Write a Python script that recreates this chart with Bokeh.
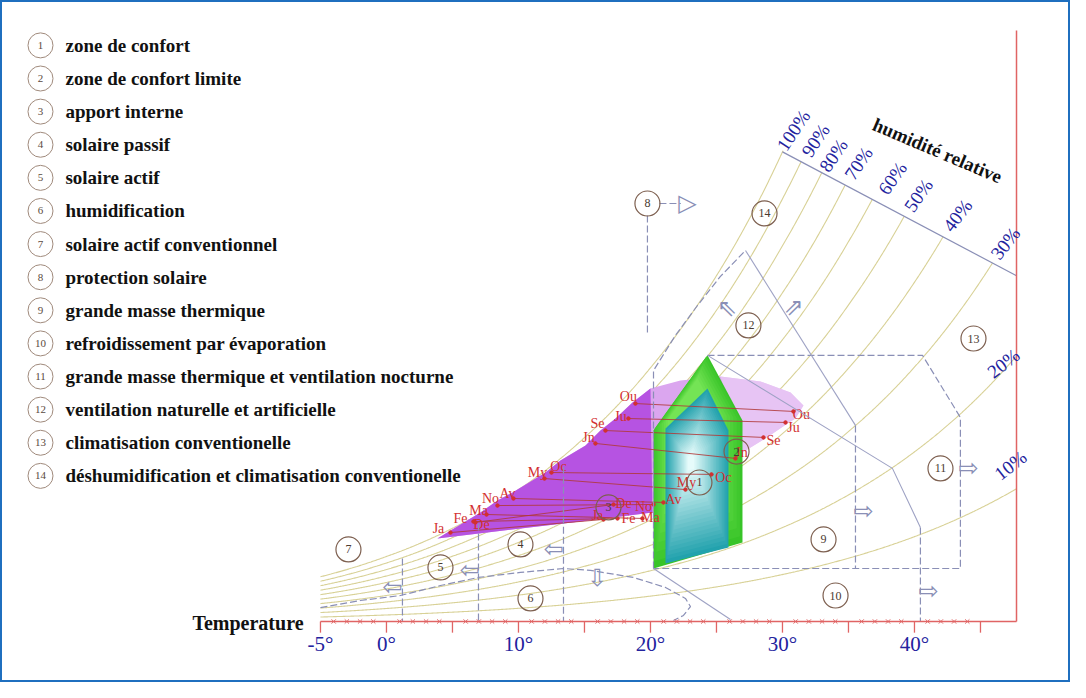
import numpy as np
from bokeh.plotting import figure
from bokeh.models import Range1d
from bokeh.core.properties import value
from bokeh.embed import file_html
from bokeh.resources import INLINE

# ---------------- data ----------------
legend_numbers = [str(i) for i in range(1, 15)]
legend_labels = [
    "zone de confort", "zone de confort limite", "apport interne", "solaire passif",
    "solaire actif", "humidification", "solaire actif conventionnel", "protection solaire",
    "grande masse thermique", "refroidissement par évaporation",
    "grande masse thermique et ventilation nocturne",
    "ventilation naturelle et artificielle", "climatisation conventionelle",
    "déshumidification et climatisation conventionelle"]

major_ticks = [-5, 0, 5, 10, 15, 20, 25, 30, 35, 40, 45]
tick_label_values = [-5, 0, 10, 20, 30, 40]
tick_label_texts = ["-5°", "0°", "10°", "20°", "30°", "40°"]
axis_T_min, axis_T_max = -5, 47.73

# saturation humidity ratio (g/kg) vs temperature (°C)
sat_T = [-5, 0, 5, 10, 15, 20, 25, 30, 35, 40, 45, 50]
sat_W = [2.6, 3.78, 5.42, 7.66, 10.69, 14.75, 20.1, 27.3, 36.8, 49.3, 65.9, 88.0]

rh_levels = [100, 90, 80, 70, 60, 50, 40, 30, 20, 10]
rh_texts = ["100%", "90%", "80%", "70%", "60%", "50%", "40%", "30%", "20%", "10%"]
rh_label_T = [30.83, 32.5, 33.86, 35.76, 38.33, 40.3, 43.26, 46.89, 46.74, 47.27]
rh_label_W = [28.55, 27.97, 27.09, 26.63, 25.76, 24.77, 23.6, 21.98, 15.0, 9.07]
top_line_T = [30.0, 47.73]
top_line_W = [27.3, 20.1]

months = ["Ja", "Fe", "Ma", "Av", "My", "Jn", "Ju", "Ou", "Se", "Oc", "No", "De"]
month_tmin = [4.85, 6.59, 7.58, 9.62, 11.97, 15.83, 18.33, 18.86, 16.59, 12.5, 8.41, 6.74]
month_wmin = [5.17, 5.81, 6.22, 7.15, 8.31, 10.35, 11.80, 12.67, 11.10, 8.66, 6.74, 5.76]
month_tmax = [16.44, 17.5, 19.39, 20.98, 22.65, 26.44, 30.23, 30.83, 28.56, 24.62, 20.23, 17.2]
month_wmax = [5.93, 5.99, 5.99, 6.92, 7.67, 9.48, 11.57, 12.21, 10.70, 8.55, 6.80, 6.80]

# envelope of monthly conditions (purple area)
env_T = [3.86, 5.61, 7.12, 8.41, 9.55, 12.05, 13.18, 15.08, 16.21, 17.35, 18.64, 20.0,
         22.27, 25.3, 28.33, 30.61, 31.59, 30.98, 30.38, 28.71, 26.97, 23.79, 20.15, 15.98]
env_W = [4.83, 5.64, 6.34, 7.03, 7.5, 8.66, 9.36, 10.23, 11.1, 11.8, 12.73, 13.55,
         14.01, 14.24, 13.95, 13.31, 12.56, 11.8, 11.51, 10.64, 9.83, 8.78, 6.34, 5.93]

# comfort zones
zone1_T = [21.14, 21.14, 24.32, 25.91, 25.91]
zone1_W = [3.37, 11.22, 13.55, 11.10, 4.30]
zone2_T = [20.23, 20.23, 24.32, 26.97, 26.97]
zone2_W = [3.08, 11.10, 15.47, 11.69, 4.59]

# zone markers
zone_T = [23.71, 26.52, 16.82, 10.15, 4.09, 10.91, -2.88, 19.77, 33.11, 34.02, 41.97, 27.42, 44.47, 28.64]
zone_W = [8.08, 9.88, 6.63, 4.48, 3.14, 1.34, 4.19, 24.30, 4.77, 1.51, 8.90, 17.21, 16.45, 23.72]

# strategy boundaries (°C, g/kg)
z11_T = [24.32, 40.61, 43.48, 43.48, 20.23]
z11_W = [15.47, 15.47, 11.86, 3.08, 3.08]
z12_left_T = [20.23, 20.23, 21.89, 23.56, 25.3, 27.2]
z12_left_W = [3.08, 14.59, 16.63, 18.37, 20.06, 21.57]
z12_right_T = [27.2, 35.53]
z12_right_W = [21.57, 11.4]
z9_vert_T = [35.53, 35.53]
z9_vert_W = [11.4, 3.08]
z10_diag_T = [24.32, 38.33, 40.45]
z10_diag_W = [15.47, 8.9, 5.47]
z10_vert_T = [40.45, 40.45]
z10_vert_W = [5.47, 0.0]
z10_left_T = [20.23, 26.06]
z10_left_W = [3.08, 0.12]
z8_vert_T = [19.77, 19.77]
z8_vert_W = [23.6, 16.8]
z8_arrow_T = [20.68, 22.3]
z8_arrow_W = [24.3, 24.3]
solar_vert_T = [13.41, 6.97, 1.21]
solar_vert_Wtop = [9.0, 5.7, 3.66]
z6_T = [-5, -1.97, 1.06, 4.09, 6.97, 10.15, 13.41, 15.45, 18.71, 21.14, 22.65, 23.03, 22.5, 21.74]
z6_W = [0.81, 1.22, 1.51, 2.09, 2.56, 2.85, 3.08, 2.97, 2.56, 1.98, 1.34, 0.87, 0.35, 0.06]

arrow_glyphs = ["⇦", "⇦", "⇦", "⇩", "⇨", "⇨", "⇨", "⇖", "⇗", "▷"]
arrow_T = [0.45, 6.29, 12.65, 15.98, 36.14, 44.09, 41.06, 25.83, 30.83, 22.8]
arrow_W = [1.98, 2.97, 4.19, 2.5, 6.45, 8.95, 1.8, 18.2, 18.26, 24.3]

# ---------------- layout / style ----------------
SERIF = value("Liberation Serif")
BLUE = "#23239e"
RED = "#d23030"
ZONE_LINE = "#8a8fb6"
CURVE = "#d8d196"

p = figure(width=1070, height=682, output_backend="svg", toolbar_location=None,
           x_axis_location=None, y_axis_location=None, min_border=0,
           x_range=Range1d(-29.24, 51.82), y_range=Range1d(-3.547, 36.10))
p.outline_line_color = "#1f6fbf"
p.outline_line_width = 3
p.background_fill_color = "white"
p.border_fill_color = "white"
p.grid.visible = False

# RH curves
Tg = np.linspace(axis_T_min, axis_T_max, 800)
Ws = np.exp(np.interp(Tg, sat_T, np.log(sat_W)))
diagW = np.where(Tg >= top_line_T[0],
                 np.interp(Tg, top_line_T, top_line_W), 1e9)
for rh in rh_levels:
    W = rh / 100.0 * Ws
    over = W > diagW + 1e-9
    if over.any():
        i = int(np.argmax(over))
        xs = list(Tg[:i]); ys = list(W[:i])
        d0 = W[i - 1] - diagW[i - 1]; d1 = W[i] - diagW[i]
        f = d0 / (d0 - d1) if d0 != d1 else 0
        xs.append(Tg[i - 1] + f * (Tg[i] - Tg[i - 1]))
        ys.append(W[i - 1] + f * (W[i] - W[i - 1]))
    else:
        xs = list(Tg); ys = list(W)
    p.line(xs, ys, line_color=CURVE, line_width=1.1)

p.line(top_line_T, top_line_W, line_color=ZONE_LINE, line_width=1.2)


def inset(xs, ys, k, dx=0.0, dy=0.0):
    cx, cy = np.mean(xs), np.mean(ys)
    return [cx + dx + k * (x - cx) for x in xs], [cy + dy + k * (y - cy) for y in ys]


def mix(c1, c2, t):
    a = [int(c1[i:i + 2], 16) for i in (1, 3, 5)]
    b = [int(c2[i:i + 2], 16) for i in (1, 3, 5)]
    return "#%02x%02x%02x" % tuple(int(round(a[j] + (b[j] - a[j]) * t)) for j in range(3))


# purple envelope
p.patch(env_T, env_W, fill_color="#dba6ef", line_color=None)
n_dark = 12
dark_T = env_T[:n_dark] + env_T[-2:]
dark_W = env_W[:n_dark] + env_W[-2:]
p.patch(dark_T, dark_W, fill_color="#b44ee0", line_color=None, fill_alpha=0.95)
p.patch(env_T[13:21], env_W[13:21], fill_color="#f4e2f9", line_color=None, fill_alpha=0.5)

# zone 2 (green) and zone 1 (cyan) with stepped gradients
p.patch(zone2_T, zone2_W, fill_color="#38c428", line_color=None)
ng = 8
for s, k in enumerate(np.linspace(0.96, 0.55, ng)):
    gx, gy = inset(zone2_T, zone2_W, k, -0.5 * (s + 1) / ng, 1.5 * (s + 1) / ng)
    p.patch(gx, gy, fill_color=mix("#38c428", "#74e455", (s + 1) / ng), line_color=None)
p.patch(zone1_T, zone1_W, fill_color="#22a2ad", line_color=None)
nl = 22
for s, k in enumerate(np.linspace(0.96, 0.1, nl)):
    cx_, cy_ = inset(zone1_T, zone1_W, k, -0.6 * (s + 1) / nl, 0.6 * (s + 1) / nl)
    p.patch(cx_, cy_, fill_color=mix("#22a2ad", "#e6fbfb", (s + 1) / nl), line_color=None)

# month lines and labels
for i in range(len(months)):
    p.line([month_tmin[i], month_tmax[i]], [month_wmin[i], month_wmax[i]],
           line_color="#b03838", line_width=1, line_alpha=0.85)
p.scatter(month_tmin + month_tmax, month_wmin + month_wmax, size=3.5,
          fill_color=RED, line_color=RED)
left_dx = [-12, -13, -8, -6, -7, -7, -8, -7, -8, 7, -7, 6]
left_dy = [-4, -3, -4, -5, -6, -6, -2, -7, -7, -6, -7, 2]
right_dx = [-6, 11, 8, 10, 1, 6, 8, 8, 10, 12, -10, 10]
right_dy = [-4, 0, -1, -3, -7, -6, 5, 3, 3, 3, 2, -1]
for i, m in enumerate(months):
    p.text([month_tmin[i]], [month_wmin[i]], text=[m], text_font=SERIF,
           text_font_size="14px", text_color=RED, text_align="center",
           text_baseline="middle", x_offset=left_dx[i], y_offset=left_dy[i])
    p.text([month_tmax[i]], [month_wmax[i]], text=[m], text_font=SERIF,
           text_font_size="14px", text_color=RED, text_align="center",
           text_baseline="middle", x_offset=right_dx[i], y_offset=right_dy[i])

# strategy boundaries
dash = dict(line_color=ZONE_LINE, line_width=1.2, line_dash="7 3")
solid = dict(line_color="#9ea2c4", line_width=1.1)
p.line(z11_T, z11_W, **dash)
p.line(z12_left_T, z12_left_W, **dash)
p.line(z12_right_T, z12_right_W, **solid)
p.line(z9_vert_T, z9_vert_W, **dash)
p.line(z10_diag_T, z10_diag_W, **solid)
p.line(z10_vert_T, z10_vert_W, **dash)
p.line(z10_left_T, z10_left_W, **solid)
p.line(z8_vert_T, z8_vert_W, **dash)
p.line(z8_arrow_T, z8_arrow_W, **dash)
for t, wt in zip(solar_vert_T, solar_vert_Wtop):
    p.line([t, t], [wt, 0], **dash)
p.line(z6_T, z6_W, **dash)
p.text(arrow_T, arrow_W, text=arrow_glyphs, text_font=value("DejaVu Sans"),
       text_font_size="24px", text_color=ZONE_LINE, text_align="center",
       text_baseline="middle")

# zone markers
p.scatter(zone_T, zone_W, size=25, fill_color=None, line_color="#7d5f4f", line_width=1.2)
p.text(zone_T, zone_W, text=legend_numbers, text_font=SERIF, text_font_size="12px",
       text_color="#4a3a30", text_align="center", text_baseline="middle")

# temperature axis
p.line([axis_T_min, axis_T_max], [0, 0], line_color="#e06464", line_width=1.5)
p.line([axis_T_max, axis_T_max], [0, 34.36], line_color="#e06464", line_width=1.5)
p.segment(x0=major_ticks, y0=[0] * len(major_ticks), x1=major_ticks,
          y1=[-0.65] * len(major_ticks), line_color="#e06464", line_width=1.3)
minor = [t for t in range(-4, 45) if t % 5 != 0]
p.scatter(minor, [0] * len(minor), marker="x", size=6, line_color="#e06464", line_width=1)
p.text(tick_label_values, [-1.28] * len(tick_label_values), text=tick_label_texts,
       text_font=SERIF, text_font_size="21px", text_color=BLUE, text_align="center",
       text_baseline="middle")
p.text([-14.7], [-0.06], text=["Temperature"], text_font=SERIF, text_font_size="20px",
       text_font_style="bold", text_color="#111111", text_align="left",
       text_baseline="middle")

# RH labels
rh_angles = [56, 56, 56, 56, 55, 55, 53, 52, 38, 38]
for i in range(len(rh_texts)):
    p.text([rh_label_T[i]], [rh_label_W[i]], text=[rh_texts[i]], text_font=SERIF,
           text_font_size="19px", text_color=BLUE, text_align="center",
           text_baseline="middle", angle=np.deg2rad(rh_angles[i]))
p.text([41.74], [27.38], text=["humidité relative"], text_font=SERIF,
       text_font_size="19px", text_font_style="bold", text_color="#111111",
       text_align="center", text_baseline="middle", angle=np.deg2rad(-23))

# legend
leg_W = [33.49 - 1.925 * i for i in range(len(legend_labels))]
p.scatter([-26.21] * len(leg_W), leg_W, size=25, fill_color="white",
          line_color="#a08a7c", line_width=1)
p.text([-26.21] * len(leg_W), leg_W, text=legend_numbers, text_font=SERIF,
       text_font_size="11px", text_color="#5a4a40", text_align="center",
       text_baseline="middle")
p.text([-24.32] * len(leg_W), leg_W, text=legend_labels, text_font=SERIF,
       text_font_size="19px", text_font_style="bold", text_color="#111111",
       text_align="left", text_baseline="middle")

open("out.html", "w").write(file_html(p, INLINE))
